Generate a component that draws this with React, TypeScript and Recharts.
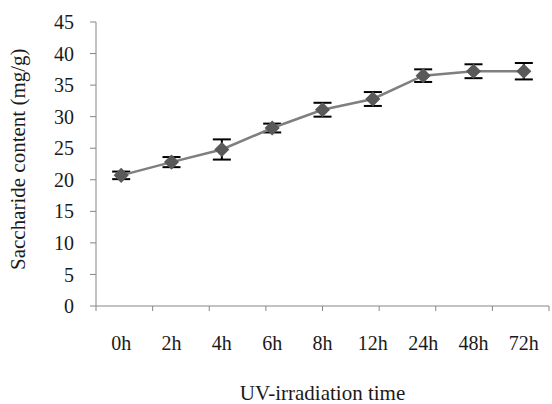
import React from "react";
import { LineChart, Line, XAxis, YAxis, ErrorBar } from "recharts";

const times = ["0h", "2h", "4h", "6h", "8h", "12h", "24h", "48h", "72h"];
const saccharide = [20.7, 22.8, 24.8, 28.2, 31.1, 32.8, 36.5, 37.2, 37.2];
const errors = [0.6, 0.8, 1.6, 0.7, 1.1, 1.1, 1.0, 1.1, 1.3];
const yTicks = [0, 5, 10, 15, 20, 25, 30, 35, 40, 45];
const bandEdges = [0, 1, 2, 3, 4, 5, 6, 7, 8, 9];

const data = times.map((t, i) => ({ time: t, value: saccharide[i], err: errors[i] }));

const font = "'Liberation Serif', 'Times New Roman', serif";

const Diamond = (props: any) => {
  const { cx, cy } = props;
  if (cx == null || cy == null) return null;
  const r = 6.5;
  return (
    <polygon
      points={`${cx},${cy - r} ${cx + r},${cy} ${cx},${cy + r} ${cx - r},${cy}`}
      fill="#595959"
      stroke="#595959"
      strokeWidth={1.5}
    />
  );
};

const NoLabel = () => <g />;

export default function App() {
  const plotW = 552 - 3 - 96;
  const half = plotW / times.length / 2;
  return (
    <div style={{ position: "fixed", left: 0, top: 0, width: 552, height: 404, background: "#fff" }}>
      <LineChart width={552} height={404} data={data} margin={{ top: 22, right: 3, bottom: 0, left: 0 }}>
        {/* band boundary ticks, like a category axis in a spreadsheet chart */}
        <XAxis
          xAxisId="a_edges"
          type="number"
          domain={[0, 9]}
          ticks={bandEdges}
          interval={0}
          stroke="#868686"
          tickSize={5}
          tickLine={{ stroke: "#868686" }}
          tick={NoLabel}
          height={6}
        />
        <XAxis
          xAxisId="b_cats"
          dataKey="time"
          padding={{ left: half, right: half }}
          axisLine={false}
          tickLine={false}
          tickMargin={18}
          tick={{ fill: "#1a1a1a", fontSize: 20, fontFamily: font }}
          height={92}
          label={{ value: "UV-irradiation time", position: "insideBottom", offset: 4, fill: "#1a1a1a", fontSize: 21, fontFamily: font }}
        />
        <YAxis
          domain={[0, 45]}
          ticks={yTicks}
          interval={0}
          stroke="#868686"
          tickSize={6}
          tickMargin={16}
          width={96}
          tick={{ fill: "#1a1a1a", fontSize: 20, fontFamily: font }}
          label={{ value: "Saccharide content (mg/g)", angle: -90, position: "insideLeft", offset: 18, dy: 106, fill: "#1a1a1a", fontSize: 21, fontFamily: font }}
        />
        <Line
          xAxisId="b_cats"
          dataKey="value"
          stroke="#7f7f7f"
          strokeWidth={2.5}
          dot={<Diamond />}
          activeDot={false}
          isAnimationActive={false}
        >
          <ErrorBar dataKey="err" direction="y" width={9} stroke="#000" strokeWidth={2} />
        </Line>
      </LineChart>
    </div>
  );
}
